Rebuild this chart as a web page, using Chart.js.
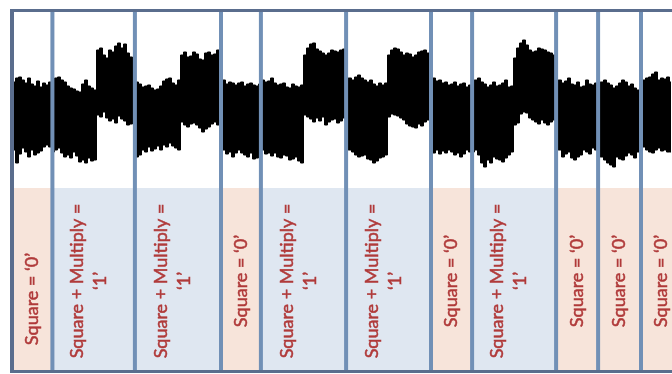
<!DOCTYPE html>
<html>
<head>
<meta charset="utf-8">
<script src="https://cdn.jsdelivr.net/npm/chart.js@4.4.1/dist/chart.umd.min.js"></script>
<style>
  html, body { margin: 0; padding: 0; background: #ffffff; }
  #wrap { width: 672px; height: 374px; position: relative; }
</style>
</head>
<body>
<div id="wrap"><canvas id="trace" width="672" height="374"></canvas></div>
<script>
// Power trace envelope, one value per sample (upper and lower level, arbitrary units)
const traceHigh = [
  108,112,113,110,107,112,106,104,109,103,107,105,108,
  110,112,113,110,108,104,102,101,99,98,106,110,104,102,100,
  140,142,135,132,140,138,144,147,142,146,137,133,130,
  108,106,103,104,105,102,100,101,104,109,111,112,107,105,110,
  135,138,133,134,138,136,131,130,137,138,135,136,140,
  110,110,106,108,107,105,107,108,104,106,107,105,104,106,
  110,108,109,112,107,105,106,107,103,102,106,104,103,105,
  135,142,146,147,141,139,137,135,137,140,139,138,140,141,
  112,112,110,113,115,112,110,108,110,106,104,107,105,107,
  135,140,142,141,138,135,137,136,133,135,138,139,140,137,
  110,112,109,110,107,108,105,106,108,104,106,107,103,105,
  110,110,112,108,106,103,105,108,104,105,107,110,103,104,
  132,142,147,150,145,140,138,139,142,141,140,138,137,135,
  110,110,107,109,112,106,105,108,103,104,110,106,105,107,
  108,108,110,107,105,102,104,107,110,108,104,106,102,100,
  108,110,112,113,116,118,110,112,111,113,108
];
const traceLow = [
  40,27,36,42,38,33,40,35,37,39,43,45,43,
  38,40,42,37,33,35,32,38,34,28,30,27,32,29,30,
  75,73,78,72,69,71,67,74,71,69,65,66,68,
  33,35,40,38,43,39,41,44,40,45,43,47,44,42,40,
  68,65,63,66,67,65,62,58,61,63,66,68,65,
  40,40,36,38,33,37,40,37,35,33,37,31,32,33,
  40,36,37,34,37,33,32,35,34,30,31,33,29,27,
  75,73,71,68,72,69,73,65,68,70,71,67,69,72,
  40,40,38,35,33,34,35,31,30,27,29,32,33,35,
  73,76,75,74,72,70,66,64,63,62,66,64,68,70,
  38,37,40,36,39,37,40,38,35,37,33,36,40,38,
  38,40,35,27,23,30,27,33,31,30,28,32,35,38,
  65,67,76,78,77,72,70,68,66,70,67,65,68,70,
  40,40,33,36,38,32,30,33,35,40,38,36,42,40,
  33,33,30,27,25,23,33,31,30,34,37,35,32,38,
  42,43,40,38,37,40,42,39,40,38,38
];

// Operation windows: boundaries in sample index, and the key bit decoded in each window
const windowStart = -0.7;
const boundaries = [12.8, 40.3, 69, 82.3, 110.7, 139, 152.7, 180.7, 194.7, 209];
const windowEnd = 222.7;
const bits = ['0', '1', '1', '0', '1', '1', '0', '1', '0', '0', '0'];
const bitLabels = {
  '0': ['Square = \u20180\u2019'],
  '1': ['Square + Multiply =', '\u20181\u2019']
};

// Layout of the figure (scale units)
const X_MIN = -14 / 3, X_MAX = 658 / 3;
const Y_MIN = -184, Y_MAX = 190;
const LABEL_TOP = 2, LABEL_BOTTOM = -182;

const style = {
  zeroFill: '#f7e4da',
  oneFill: '#dfe7f1',
  divider: '#7190b6',
  frame: '#5a6d8d',
  text: '#b03a3a',
  font: '18px Lato, "Open Sans", sans-serif'
};

const panels = {
  id: 'panels',
  beforeDatasetsDraw(chart) {
    const { ctx, scales: { x, y } } = chart;
    const edges = [windowStart, ...boundaries, windowEnd];
    const top = y.getPixelForValue(LABEL_TOP);
    const bot = y.getPixelForValue(LABEL_BOTTOM);
    ctx.save();
    bits.forEach((b, k) => {
      const x0 = x.getPixelForValue(edges[k]);
      const x1 = x.getPixelForValue(edges[k + 1]);
      ctx.fillStyle = b === '0' ? style.zeroFill : style.oneFill;
      ctx.fillRect(x0, top, x1 - x0, bot - top);
    });
    ctx.restore();
  },
  afterDatasetsDraw(chart) {
    const { ctx, chartArea: a, scales: { x, y } } = chart;
    const edges = [windowStart, ...boundaries, windowEnd];
    ctx.save();

    // rotated labels in the lower band
    ctx.fillStyle = style.text;
    ctx.strokeStyle = style.text;
    ctx.lineWidth = 0.5;
    ctx.font = style.font;
    ctx.textAlign = 'center';
    ctx.textBaseline = 'middle';
    const lineH = 23;
    bits.forEach((b, k) => {
      const lines = bitLabels[b];
      const mid = (x.getPixelForValue(edges[k]) + x.getPixelForValue(edges[k + 1])) / 2;
      const cx = lines.length > 1 ? mid - 5 : mid;
      const cy = k === 0 ? 299 : 281;
      ctx.save();
      ctx.translate(cx, cy);
      ctx.rotate(-Math.PI / 2);
      lines.forEach((t, j) => {
        const dy = (j - (lines.length - 1) / 2) * lineH;
        ctx.fillText(t, 0, dy);
        ctx.strokeText(t, 0, dy);
      });
      ctx.restore();
    });

    // window dividers
    ctx.fillStyle = style.divider;
    boundaries.forEach(bd => {
      const px = x.getPixelForValue(bd);
      ctx.fillRect(px - 2, a.top + 10, 4, a.bottom - a.top - 12);
    });

    // outer frame
    ctx.fillStyle = style.frame;
    ctx.fillRect(a.left + 10, a.top + 9, a.right - a.left - 10, 3);
    ctx.fillRect(a.left + 10, a.top + 9, 4, a.bottom - a.top - 11);
    ctx.fillRect(a.left + 10, a.bottom - 4, a.right - a.left - 10, 3);
    ctx.restore();
  }
};

const pts = arr => arr.map((v, i) => ({ x: i, y: v }));

new Chart(document.getElementById('trace'), {
  type: 'line',
  data: {
    datasets: [
      {
        data: pts(traceLow),
        borderColor: '#000000',
        borderWidth: 1,
        pointRadius: 0,
        stepped: 'middle',
        fill: false
      },
      {
        data: pts(traceHigh),
        borderColor: '#000000',
        backgroundColor: '#000000',
        borderWidth: 1,
        pointRadius: 0,
        stepped: 'middle',
        fill: '-1'
      }
    ]
  },
  options: {
    responsive: false,
    animation: false,
    events: [],
    layout: { padding: 0 },
    plugins: { legend: { display: false }, tooltip: { enabled: false }, title: { display: false } },
    scales: {
      x: { type: 'linear', min: X_MIN, max: X_MAX, display: false },
      y: { type: 'linear', min: Y_MIN, max: Y_MAX, display: false }
    }
  },
  plugins: [panels]
});
</script>
</body>
</html>
